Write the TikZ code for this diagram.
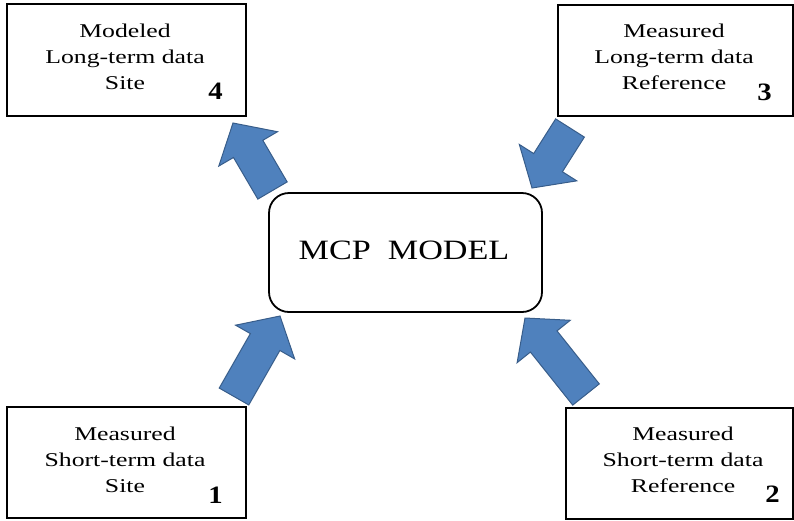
\documentclass[tikz,border=0pt]{standalone}
\usepackage{fontspec}
\setmainfont{Liberation Serif}
\usepackage{graphicx}
\usetikzlibrary{calc}

\definecolor{arrowfill}{HTML}{4F81BD}
\definecolor{arrowline}{HTML}{385D8A}

% three centred lines, widened like the original slide text
\newcommand\boxlines[1]{\scalebox{1.32}[1]{\begin{tabular}{@{}c@{}}#1\end{tabular}}}

% block arrow from a base point to a tip point
\newcommand\blockarrow[3]{% name, base, tip
  \coordinate (#1-h) at ($(#3)!30pt!(#2)$);
  \filldraw[barrow]
    ($(#2)!17pt!90:(#3)$) -- ($(#1-h)!17pt!90:(#3)$) -- ($(#1-h)!34pt!90:(#3)$)
    -- (#3)
    -- ($(#1-h)!34pt!-90:(#3)$) -- ($(#1-h)!17pt!-90:(#3)$) -- ($(#2)!17pt!-90:(#3)$)
    -- cycle;
}

\tikzset{
  databox/.style={draw=black, line width=2pt, inner sep=0pt, fill=white},
  modelbox/.style={draw=black, line width=1.8pt, inner sep=0pt, rounded corners=20pt,
    minimum width=273pt, minimum height=119pt, fill=white},
  lines/.style={inner sep=0pt, font=\fontsize{19.5}{26}\selectfont},
  tag/.style={inner sep=0pt, anchor=base, font=\fontsize{25}{28}\selectfont\bfseries},
  title/.style={inner sep=0pt, anchor=base, font=\fontsize{28}{32}\selectfont},
  barrow/.style={fill=arrowfill, draw=arrowline, line width=1pt, line join=miter},
}

\begin{document}
\begin{tikzpicture}[x=1pt, y=-1pt]
  \useasboundingbox (0,0) rectangle (794,520);

  % boxes
  \node[databox, minimum width=239pt, minimum height=112pt] (site4) at (126.5,60) {};
  \node[databox, minimum width=235pt, minimum height=111pt] (ref3) at (675,60.5) {};
  \node[databox, minimum width=239pt, minimum height=111pt] (site1) at (126.5,462.5) {};
  \node[databox, minimum width=227pt, minimum height=111pt] (ref2) at (679,463.5) {};
  \node[modelbox] (mcp) at (405.5,252.5) {};

  % box texts
  \node[lines] (site4-text) at (125,57.8) {\boxlines{Modeled\\Long-term data\\Site}};
  \node[lines] (ref3-text) at (674,57.8) {\boxlines{Measured\\Long-term data\\Reference}};
  \node[lines] (site1-text) at (125,460.8) {\boxlines{Measured\\Short-term data\\Site}};
  \node[lines] (ref2-text) at (683,460.8) {\boxlines{Measured\\Short-term data\\Reference}};
  \node[title] (mcp-text) at (404,259.3) {\scalebox{1.22}[1]{MCP\ \ MODEL}};

  % step numbers
  \node[tag] (n4) at (215.5,99) {\scalebox{1.15}[1]{4}};
  \node[tag] (n3) at (764.5,100) {\scalebox{1.15}[1]{3}};
  \node[tag] (n1) at (215.5,503) {\scalebox{1.15}[1]{1}};
  \node[tag] (n2) at (772.5,502) {\scalebox{1.15}[1]{2}};

  % arrow ends
  \coordinate (a1b) at (234,396.5); \coordinate (a1t) at (280,316);
  \coordinate (a2b) at (586,394.5); \coordinate (a2t) at (525,318);
  \coordinate (a3b) at (570,128);   \coordinate (a3t) at (532,188);
  \coordinate (a4b) at (272.5,190.5); \coordinate (a4t) at (233,123);

  % flows into and out of the model
  \blockarrow{a1}{a1b}{a1t}
  \blockarrow{a2}{a2b}{a2t}
  \blockarrow{a3}{a3b}{a3t}
  \blockarrow{a4}{a4b}{a4t}
\end{tikzpicture}
\end{document}
